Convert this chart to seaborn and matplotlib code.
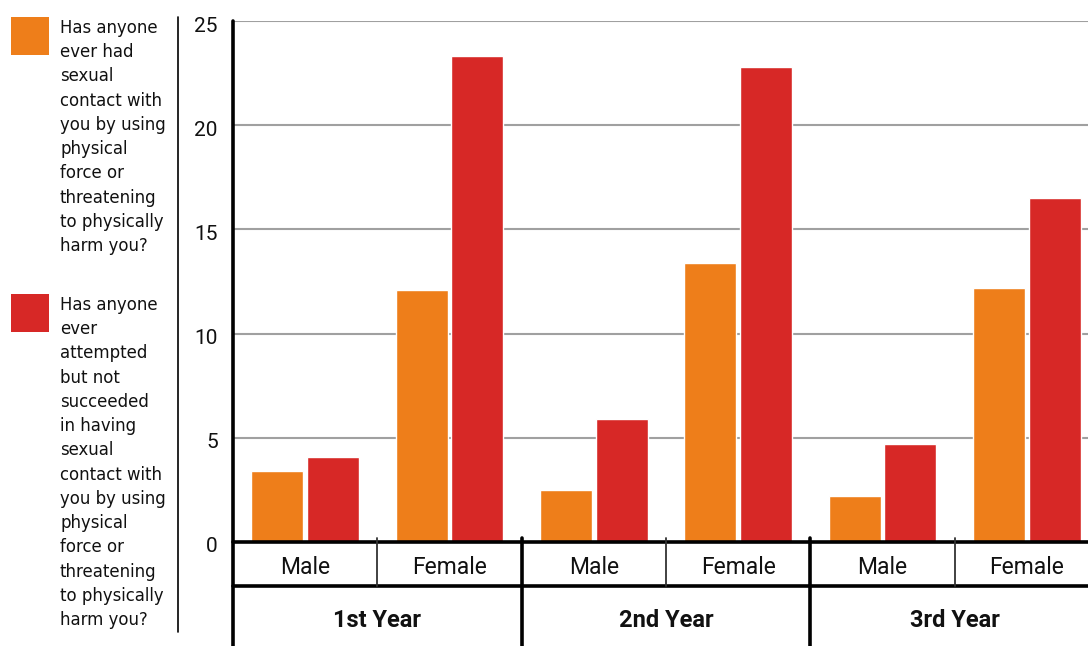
import matplotlib
matplotlib.use('Agg')
import matplotlib.pyplot as plt
from matplotlib import font_manager as fm
from matplotlib.lines import Line2D
from matplotlib.patches import Rectangle
from matplotlib.transforms import ScaledTranslation
import seaborn as sns
import pandas as pd

# Dane
years = ['1st Year', '2nd Year', '3rd Year']
genders = ['Male', 'Female']
force_values = [3.4, 12.1, 2.5, 13.4, 2.2, 12.2]
attempt_values = [4.1, 23.3, 5.9, 22.8, 4.7, 16.5]
series_names = ['force', 'attempt']
legend_texts = [
    'Has anyone\never had\nsexual\ncontact with\nyou by using\nphysical\nforce or\nthreatening\nto physically\nharm you?',
    'Has anyone\never\nattempted\nbut not\nsucceeded\nin having\nsexual\ncontact with\nyou by using\nphysical\nforce or\nthreatening\nto physically\nharm you?',
]
colors = ['#EE7E1A', '#D72826']

cats = [f'{y}|{g}' for y in years for g in genders]
df = pd.DataFrame({
    'cat': cats * 2,
    'series': [series_names[0]] * 6 + [series_names[1]] * 6,
    'value': force_values + attempt_values,
})

sns.set_theme(style='white')
plt.rcParams['font.family'] = ['Roboto', 'DejaVu Sans']

# szukamy waskiej czcionki do legendy
narrow_prop = None
for f in fm.fontManager.ttflist:
    if f.weight in (400, 'normal', 'regular') and f.style == 'normal' and (
            'Narrow' in f.name or 'Condensed' in f.name or f.stretch in ('condensed', 'semi-condensed')):
        if 'Bold' in f.fname or 'Oblique' in f.fname or 'Italic' in f.fname:
            continue
        narrow_prop = fm.FontProperties(fname=f.fname, size=13.2)
        break
if narrow_prop is None:
    narrow_prop = fm.FontProperties(family='Roboto', size=13.5)

fig = plt.figure(figsize=(10.88, 6.46), dpi=100)
ax = fig.add_axes([233 / 1088, 104 / 646, 866 / 1088, 521 / 646])

sns.barplot(data=df, x='cat', y='value', hue='series', order=cats,
            hue_order=series_names, palette=colors, width=0.77, gap=0.06,
            saturation=1, legend=False, ax=ax)

ax.set_xlim(-0.5, 5.5)
ax.set_ylim(0, 25)
ax.set_yticks([0, 5, 10, 15, 20, 25])
ax.set_yticklabels(['0', '5', '10', '15', '20', '25'], fontsize=15, color='#111111')
ax.tick_params(axis='y', length=0, pad=11)
ax.tick_params(axis='x', length=0, labelbottom=False)
ax.set_xlabel('')
ax.set_ylabel('')
shift = ScaledTranslation(0, -3 / 100, fig.dpi_scale_trans)
for t in ax.yaxis.get_major_ticks():
    t.label1.set_va('center_baseline')
    t.label1.set_transform(t.label1.get_transform() + shift)
ax.yaxis.grid(True, color='#a0a0a0', lw=1.5)
ax.set_axisbelow(True)
for s in ['top', 'right', 'bottom', 'left']:
    ax.spines[s].set_visible(False)

trans = ax.get_xaxis_transform()
row1 = -44 / 521
row2 = -104 / 521
# os x, lewa linia i linie tabeli
ax.plot([-0.5, 5.5], [0, 0], transform=trans, color='black', lw=2.6, clip_on=False, zorder=5)
ax.plot([-0.5, -0.5], [1, row2], transform=trans, color='black', lw=2.6, clip_on=False, zorder=5)
ax.plot([-0.5, 5.5], [row1, row1], transform=trans, color='black', lw=2.6, clip_on=False, zorder=5)
for x in [0.5, 2.5, 4.5]:
    ax.plot([x, x], [0.008, row1], transform=trans, color='#333333', lw=1.3, clip_on=False, zorder=5)
for x in [1.5, 3.5, 5.5]:
    ax.plot([x, x], [0.008, row2], transform=trans, color='black', lw=2.6, clip_on=False, zorder=5)

for i, c in enumerate(cats):
    ax.text(i, row1 / 2 - 0.006, c.split('|')[1], transform=trans, ha='center', va='center',
            fontsize=16.5, color='#111111')
for j, y in enumerate(years):
    ax.text(2 * j + 0.5, (row1 + row2) / 2 - 0.008, y, transform=trans, ha='center',
            va='center', fontsize=17, fontweight='bold', color='#111111')

# Legenda po lewej stronie
fig.add_artist(Line2D([178 / 1088, 178 / 1088], [1 - 17 / 646, 1 - 632 / 646],
                      color='black', lw=1.2))
for k, top in enumerate([17, 294]):
    fig.add_artist(Rectangle((11 / 1088, 1 - (top + 38) / 646), 38 / 1088, 38 / 646,
                             color=colors[k], lw=0))
    fig.text(60 / 1088, 1 - (top + 2) / 646, legend_texts[k], ha='left', va='top',
             fontproperties=narrow_prop, color='#111111', linespacing=1.445)

fig.savefig('out.png', dpi=100)
